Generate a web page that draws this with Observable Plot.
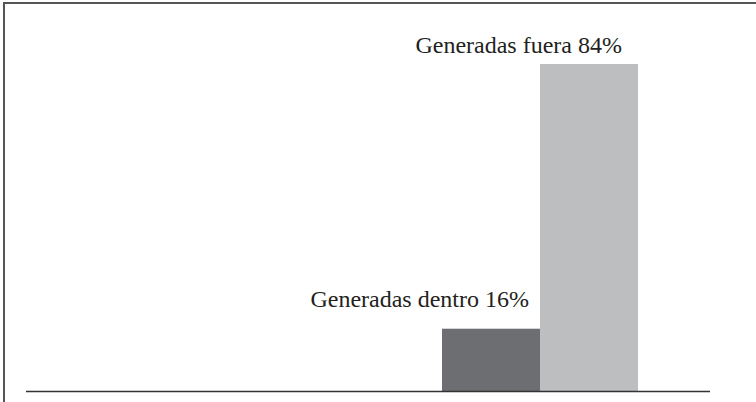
<!DOCTYPE html>
<html>
<head>
<meta charset="utf-8">
<script src="https://cdn.jsdelivr.net/npm/d3@7"></script>
<script src="https://cdn.jsdelivr.net/npm/@observablehq/plot@0.6"></script>
<style>
  html, body { margin: 0; padding: 0; background: #fff; }
  #wrap { position: relative; width: 756px; height: 402px; overflow: hidden; }
  #frame { position: absolute; left: 3px; top: 2px; width: 800px; height: 500px;
           border-left: 2px solid #555; border-top: 2px solid #555; box-sizing: border-box; }
  #chart { position: absolute; left: 0; top: 0; }
</style>
</head>
<body>
<div id="wrap"><div id="frame"></div><div id="chart"></div></div>
<script>
const categories = ["Generadas dentro", "Generadas fuera"];
const values = [16, 84];
const labels = ["Generadas dentro 16%", "Generadas fuera 84%"];
const colors = ["#6d6e71", "#bcbec0"];

const data = categories.map((c, i) => ({ cat: c, value: values[i], label: labels[i], color: colors[i] }));

const chart = Plot.plot({
  width: 756,
  height: 402,
  marginLeft: 26,
  marginRight: 46,
  marginTop: 64,
  marginBottom: 11,
  style: { fontFamily: "'Liberation Serif', serif", background: "transparent", overflow: "visible" },
  x: { domain: categories, range: [442, 638], padding: 0, axis: null },
  y: { domain: [0, 84], axis: null },
  marks: [
    Plot.barY(data, { x: "cat", y: "value", fill: "color" }),
    Plot.ruleY([0], { stroke: "#333", strokeWidth: 1.6 }),
    Plot.text(data.filter(d => d.cat === categories[0]), {
      x: "cat", y: "value", text: "label", textAnchor: "end",
      dx: 37.5, dy: -22, fontSize: 24, fontFamily: "Liberation Serif", fill: "#231f20", lineAnchor: "bottom"
    }),
    Plot.text(data.filter(d => d.cat === categories[1]), {
      x: "cat", y: "value", text: "label", textAnchor: "end",
      dx: 32.5, dy: -12, fontSize: 24, fontFamily: "Liberation Serif", fill: "#231f20", lineAnchor: "bottom"
    })
  ]
});
document.getElementById("chart").appendChild(chart);
</script>
</body>
</html>
